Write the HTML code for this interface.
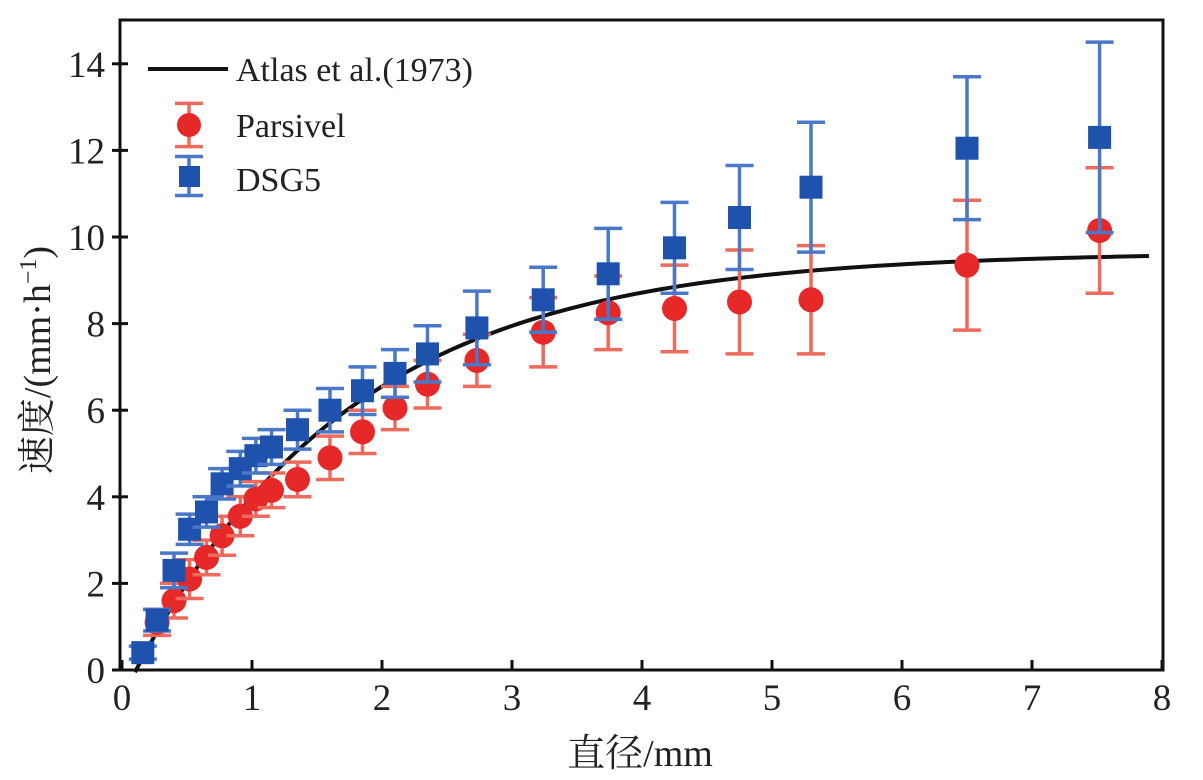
<!DOCTYPE html>
<html><head><meta charset="utf-8"><style>
body{margin:0;background:#fff}
svg text{font-family:"Liberation Serif","Noto Serif CJK SC",serif;fill:#222}
</style></head><body>
<svg width="1203" height="775" id="c" xmlns="http://www.w3.org/2000/svg"></svg>
<script>
const xTicks=[0,1,2,3,4,5,6,7,8];
const yTicks=[0,2,4,6,8,10,12,14];
const dsgD=[0.16,0.27,0.40,0.52,0.65,0.77,0.91,1.03,1.15,1.35,1.60,1.85,2.10,2.35,2.73,3.24,3.74,4.25,4.75,5.30,6.50,7.52];
const dsgV=[0.4,1.15,2.3,3.25,3.65,4.3,4.65,4.95,5.15,5.55,6.0,6.45,6.85,7.3,7.9,8.55,9.15,9.75,10.45,11.15,12.05,12.3];
const dsgE=[0.15,0.25,0.4,0.35,0.35,0.35,0.4,0.4,0.4,0.45,0.5,0.55,0.55,0.65,0.85,0.75,1.05,1.05,1.2,1.5,1.65,2.2];
const parD=[0.27,0.40,0.52,0.65,0.77,0.91,1.03,1.15,1.35,1.60,1.85,2.10,2.35,2.73,3.24,3.74,4.25,4.75,5.30,6.50,7.52];
const parV=[1.1,1.6,2.1,2.6,3.1,3.55,3.95,4.15,4.4,4.9,5.5,6.05,6.6,7.15,7.8,8.25,8.35,8.5,8.55,9.35,10.15];
const parE=[0.3,0.4,0.45,0.4,0.45,0.45,0.4,0.4,0.4,0.5,0.5,0.5,0.55,0.6,0.8,0.85,1.0,1.2,1.25,1.5,1.45];
const L=120,R=1163,T=20,B=670;
const X=d=>122+d*130,Y=v=>670-v*43.3;
const s=document.getElementById('c'),NS='http://www.w3.org/2000/svg';
function mk(t,a,p){const e=document.createElementNS(NS,t);for(const k in a)e.setAttribute(k,a[k]);(p||s).appendChild(e);return e;}
let e=mk('rect',{x:L,y:T,width:R-L,height:B-T,fill:'none',stroke:'#111','stroke-width':3});

xTicks.forEach(t=>{mk('line',{x1:X(t),x2:X(t),y1:B,y2:B-10,stroke:'#111','stroke-width':3});
 e=mk('text',{x:X(t),y:710,'text-anchor':'middle','font-size':37});e.textContent=t;
 });
yTicks.forEach(t=>{mk('line',{x1:L-8,x2:L+8,y1:Y(t),y2:Y(t),stroke:'#111','stroke-width':3});
 e=mk('text',{x:105,y:Y(t)+13,'text-anchor':'end','font-size':37});e.textContent=t;
 });
e=mk('text',{x:640,y:766,'text-anchor':'middle','font-size':38});e.textContent='直径/mm';

e=mk('text',{x:0,y:0,'text-anchor':'middle','font-size':38,transform:'translate(50,360) rotate(-90)'});
e.innerHTML='速度/(mm·h<tspan dy="-14" font-size="24">−1</tspan><tspan dy="14">)</tspan>';

let pts=[];for(let d=0.1;d<=7.9;d+=0.05){pts.push(X(d)+','+Y(9.65-10.3*Math.exp(-0.6*d)));}
e=mk('polyline',{points:pts.join(' '),fill:'none',stroke:'#111','stroke-width':4});

function eb(x,v,er,c){mk('line',{x1:x,x2:x,y1:Y(v-er),y2:Y(v+er),stroke:c,'stroke-width':3.5});
 [v-er,v+er].forEach(q=>mk('line',{x1:x-14,x2:x+14,y1:Y(q),y2:Y(q),stroke:c,'stroke-width':3.5}));}
parD.forEach((d,i)=>{eb(X(d),parV[i],parE[i],'#ee6a5c');
 e=mk('circle',{cx:X(d),cy:Y(parV[i]),r:12.5,fill:'#e62828'});
 });
dsgD.forEach((d,i)=>{eb(X(d),dsgV[i],dsgE[i],'#4a78c8');
 e=mk('rect',{x:X(d)-11.5,y:Y(dsgV[i])-11.5,width:23,height:23,fill:'#1f52ad'});
 });
mk('line',{x1:148,x2:228,y1:69,y2:69,stroke:'#111','stroke-width':4});
e=mk('text',{x:236,y:81,'font-size':34});e.textContent='Atlas et al.(1973)';

eb(189,(670-125)/43.3,0.5,'#ee6a5c');mk('circle',{cx:189,cy:125,r:12,fill:'#e62828'});
e=mk('text',{x:236,y:137,'font-size':34});e.textContent='Parsivel';

eb(189,(670-176)/43.3,0.45,'#4a78c8');mk('rect',{x:179,y:166,width:21,height:21,fill:'#1f52ad'});
e=mk('text',{x:236,y:191,'font-size':34});e.textContent='DSG5';

</script>
</body></html>
